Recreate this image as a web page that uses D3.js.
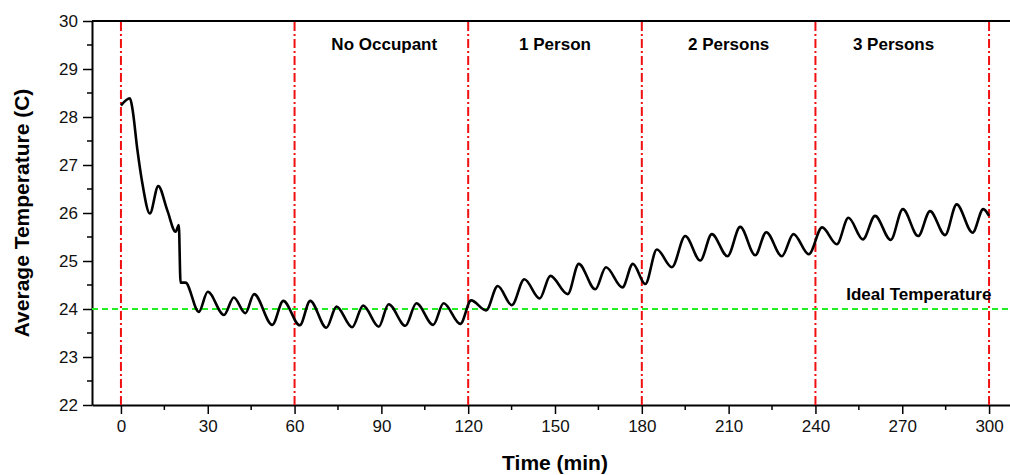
<!DOCTYPE html>
<html>
<head>
<meta charset="utf-8">
<script src="https://cdn.jsdelivr.net/npm/d3@7"></script>
<style>
  body { margin: 0; background: #fff; }
  svg { display: block; font-family: "Liberation Sans", Arial, sans-serif; }
</style>
</head>
<body>
<svg id="chart" width="1010" height="475"></svg>
<script>
// time (min) and average temperature (C)
var time = [0, 3.1, 3.9, 5.7, 7.4, 10, 12.9, 16, 18.9, 20, 20.6, 22.3, 26.9, 30, 35.6, 39, 43, 46,
  52.3, 56.1, 61.8, 65.4, 71, 74.5, 79.9, 83.7, 89.1, 92.5, 98.3, 102.1, 107.9, 111.5, 117.3,
  121, 126.2, 130.2, 135.1, 139.4, 144.7, 148.4, 154.4, 158.2, 163.9, 167.6, 173.3, 176.9,
  181.2, 185.2, 190.4, 195, 200.2, 204.2, 209.6, 214, 219.2, 223, 228.4, 232.4, 237.7,
  242.3, 247.4, 251.4, 256.4, 260.6, 266, 270.2, 275.5, 279.6, 284.8, 288.8, 294.3, 298, 300]
var temp = [28.24, 28.39, 28.2, 27.31, 26.62, 25.99, 26.56, 26.06, 25.61, 25.75, 24.55, 24.55, 23.94, 24.36, 23.875, 24.24, 23.91, 24.31,
  23.67, 24.17, 23.66, 24.17, 23.61, 24.05, 23.62, 24.07, 23.63, 24.1, 23.65, 24.12, 23.67, 24.12, 23.69,
  24.18, 23.97, 24.48, 24.08, 24.62, 24.22, 24.69, 24.31, 24.94, 24.41, 24.87, 24.45, 24.94,
  24.52, 25.24, 24.87, 25.52, 25.01, 25.56, 25.1, 25.71, 25.12, 25.6, 25.1, 25.56, 25.14,
  25.70, 25.35, 25.9, 25.45, 25.94, 25.44, 26.08, 25.52, 26.04, 25.54, 26.18, 25.59, 26.08, 25.94]

var xTicks = [0, 30, 60, 90, 120, 150, 180, 210, 240, 270, 300]
var yTicks = [22, 23, 24, 25, 26, 27, 28, 29, 30]
var phaseLines = [0, 60, 120, 180, 240, 300]
var phaseNames = ["No Occupant", "1 Person", "2 Persons", "3 Persons"]
var phaseCenters = [91, 150, 210, 267]
var idealTemp = 24

var margin = {left: 92, top: 21, right: -8, bottom: 70}
var width = 1010, height = 475
var svg = d3.select("#chart")

var x = d3.scaleLinear().domain([-10, 310]).range([margin.left, width - margin.right])
var y = d3.scaleLinear().domain([22, 30]).range([height - margin.bottom, margin.top])

// frame top line
svg.append("line")
  .attr("x1", x(-10)).attr("x2", x(310))
  .attr("y1", y(30)).attr("y2", y(30))
  .attr("stroke", "#000").attr("stroke-width", 2)

// minor ticks
var xMinor = d3.range(-15, 311, 15).filter(d => d % 30 != 0 && d > -10)
var yMinor = d3.range(22.5, 30, 1)

svg.append("g").selectAll("line").data(xMinor).join("line")
  .attr("x1", d => x(d)).attr("x2", d => x(d))
  .attr("y1", y(22)).attr("y2", y(22) + 5)
  .attr("stroke", "#000").attr("stroke-width", 1.5)
svg.append("g").selectAll("line").data(yMinor).join("line")
  .attr("y1", d => y(d)).attr("y2", d => y(d))
  .attr("x1", x(-10)).attr("x2", x(-10) - 5)
  .attr("stroke", "#000").attr("stroke-width", 1.5)

var xAxis = svg.append("g")
  .attr("transform", `translate(0,${y(22)})`)
  .call(d3.axisBottom(x).tickValues(xTicks).tickSize(9).tickSizeOuter(0).tickPadding(6))
var yAxis = svg.append("g")
  .attr("transform", `translate(${x(-10)},0)`)
  .call(d3.axisLeft(y).tickValues(yTicks).tickSize(9).tickSizeOuter(0).tickPadding(5))

;[xAxis, yAxis].forEach(g => {
  g.select(".domain").attr("stroke-width", 2)
  g.selectAll(".tick line").attr("stroke-width", 1.5)
  g.selectAll(".tick text").style("font-size", "17px").attr("fill", "#111")
    .style("font-family", "'Liberation Sans', Arial, sans-serif")
})

// ideal temperature line
svg.append("line")
  .attr("x1", x(-10)).attr("x2", x(310))
  .attr("y1", y(idealTemp)).attr("y2", y(idealTemp))
  .attr("stroke", "#22ee22").attr("stroke-width", 2)
  .attr("stroke-dasharray", "6,4")

// phase separators
svg.append("g").selectAll("line").data(phaseLines).join("line")
  .attr("x1", d => x(d)).attr("x2", d => x(d))
  .attr("y1", y(30) + 1).attr("y2", y(22))
  .attr("stroke", "#f01010").attr("stroke-width", 2)
  .attr("stroke-dasharray", "9,3,2,3")

// temperature curve
var data = time.map((t, i) => ({t: t, v: temp[i]}))
var line = d3.line().x(d => x(d.t)).y(d => y(d.v)).curve(d3.curveMonotoneX)
svg.append("path")
  .datum(data)
  .attr("d", line)
  .attr("fill", "none")
  .attr("stroke", "#000")
  .attr("stroke-width", 2.6)
  .attr("stroke-linejoin", "round")

// labels
svg.append("g").selectAll("text").data(phaseNames).join("text")
  .attr("x", (d, i) => x(phaseCenters[i]))
  .attr("y", 50)
  .attr("text-anchor", "middle")
  .style("font-size", "17px").style("font-weight", "bold")
  .text(d => d)

svg.append("text")
  .attr("x", x(300.8)).attr("y", 300)
  .attr("text-anchor", "end")
  .style("font-size", "17px").style("font-weight", "bold")
  .text("Ideal Temperature")

svg.append("text")
  .attr("x", (x(-10) + x(310)) / 2).attr("y", 470)
  .attr("text-anchor", "middle")
  .style("font-size", "21px").style("font-weight", "bold")
  .text("Time (min)")

svg.append("text")
  .attr("transform", `translate(29,${(y(22) + y(30)) / 2}) rotate(-90)`)
  .attr("text-anchor", "middle")
  .style("font-size", "21px").style("font-weight", "bold")
  .text("Average Temperature (C)")
</script>
</body>
</html>
